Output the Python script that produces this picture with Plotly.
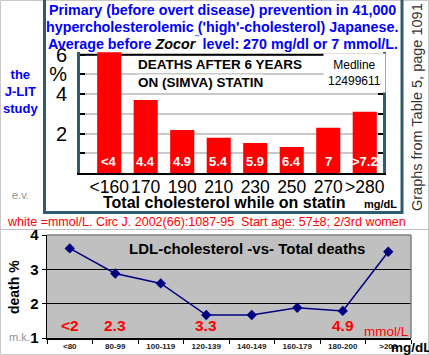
import plotly.graph_objects as go

W, H = 429, 355
def px(x): return x / W
def py(y): return 1 - y / H

# ---------------- data ----------------
tc_categories = ["<160", "170", "190", "210", "230", "250", "270", ">280"]
tc_death_pct = [6.13, 3.70, 2.18, 1.79, 1.52, 1.32, 2.30, 3.11]
tc_mmol_labels = ["<4", "4.4", "4.9", "5.4", "5.9", "6.4", "7", ">7.2"]
top_ytick_vals = [1, 2, 3, 4, 5, 6]
top_ytick_text = ["", "2", "", "4", "%", "6"]

ldl_categories = ["<80", "80-99", "100-119", "120-139", "140-149", "160-179", "180-200", ">200"]
ldl_death_pct = [3.61, 2.88, 2.59, 1.67, 1.67, 1.88, 1.79, 3.51]
ldl_mmol_labels = ["<2", "2.3", "", "3.3", "", "", "4.9", ""]
bottom_ytick_vals = [1, 2, 3, 4]

FONT = "Liberation Sans, Arial, sans-serif"
SLATE = "#2f5b6f"
BAR_W = 0.66

fig = go.Figure()

fig.add_trace(go.Bar(
    x=list(range(len(tc_categories))), y=tc_death_pct,
    marker=dict(color="#ff0000", line=dict(width=0)),
    width=BAR_W, xaxis="x", yaxis="y", hoverinfo="skip", showlegend=False))

fig.add_trace(go.Scatter(
    x=ldl_categories, y=ldl_death_pct, mode="lines+markers",
    line=dict(color="#000080", width=1.5),
    marker=dict(symbol="diamond", size=8, color="#000080"),
    xaxis="x2", yaxis="y2", hoverinfo="skip", showlegend=False))

ann = []
def A(x, y, text, size, color="black", bold=False, italic=False, xanchor="center",
      yanchor="middle", textangle=0, align="center", bgcolor=None, xref="paper", yref="paper", **kw):
    d = dict(x=x, y=y, xref=xref, yref=yref, text=text, showarrow=False,
             xanchor=xanchor, yanchor=yanchor, textangle=textangle, align=align,
             font=dict(family=FONT, size=size, color=color,
                       weight="bold" if bold else "normal",
                       style="italic" if italic else "normal"))
    if bgcolor:
        d["bgcolor"] = bgcolor
    d.update(kw)
    ann.append(d)

# title lines
A(px(222), py(10), "Primary (before overt disease) prevention in 41,000", 14.3, "#0000ff", bold=True)
A(px(222), py(27), "hypercholesterolemic ('high'-cholesterol) Japanese.", 14.3, "#0000ff", bold=True)
A(px(223), py(43), "Average before <span style='color:black'><i>Zocor</i></span><sup>¨</sup> level: 270 mg/dl or 7 mmol/L.",
  14.3, "#0000ff", bold=True)

# left notes
A(px(20), py(91), "the<br>J-LIT<br>study", 13, "#0000ff", bold=True)
A(px(20), py(195), "e.v.", 11, "#909090")
A(px(417), py(107), "Graphs from Table 5, page 1091", 14.5, "#333333", textangle=-90)

# chart texts (top)
A(px(137), py(65), "DEATHS AFTER 6 YEARS", 13.5, bold=True, xanchor="left", bgcolor="white", borderpad=0)
A(px(137), py(82), "ON (SIMVA) STATIN", 13.5, bold=True, xanchor="left", bgcolor="white", borderpad=0)
A(px(354), py(73), "Medline<br>12499611", 12, xanchor="center", bgcolor="white", borderpad=4)
A(px(224), py(202), "Total cholesterol while on statin", 16, bold=True)
A(px(380), py(204), "mg/dL", 11, bold=True)
for i, lab in enumerate(tc_mmol_labels):
    A(i, 0, lab, 13, "white", bold=True, xref="x", yref="y", yanchor="bottom", yshift=2)

A(px(206), py(222), "white =mmol/L. Circ J. 2002(66):1087-95  Start age: 57±8; 2/3rd women", 12.5, "#ff0000")

# bottom chart texts
A(px(247), py(249), "LDL-cholesterol -vs- Total deaths", 15, bold=True)
A(px(14), py(287), "death %", 14, bold=True, textangle=-90)
A(px(19), py(337), "m.k.", 11, "#909090")
A(px(411), py(347), "mg/dL", 13.5, bold=True)
for i, lab in enumerate(ldl_mmol_labels):
    if lab:
        A(i, 1, lab, 15.5, "#ff0000", bold=True, xref="x2", yref="y2", yanchor="bottom", yshift=2)
A(px(362), py(331), "mmol/L", 13.5, "#ff0000", xanchor="left")

shapes = [
    # page border & separator
    dict(type="rect", xref="paper", yref="paper", x0=px(0.5), x1=px(428.5), y0=py(354.5), y1=py(0.5),
         line=dict(color="#c8c8c8", width=1)),
    dict(type="line", xref="paper", yref="paper", x0=0, x1=1, y0=py(229.5), y1=py(229.5),
         line=dict(color="#c0c0c0", width=1)),
    # frame of upper chart
    dict(type="rect", xref="paper", yref="paper", x0=px(44.5), x1=px(402), y0=py(212.5), y1=py(-3),
         line=dict(color=SLATE, width=3)),
    # black line at 6 in upper chart (interrupted by the first bar)
    dict(type="line", xref="x", yref="y", x0=-0.8, x1=-BAR_W / 2, y0=6, y1=6,
         line=dict(color="black", width=2)),
    dict(type="line", xref="x", yref="y", x0=BAR_W / 2, x1=7.5, y0=6, y1=6,
         line=dict(color="black", width=2)),
    # gray plot area of lower chart
    dict(type="rect", xref="x2 domain", yref="y2 domain", x0=0, x1=1, y0=0, y1=1,
         fillcolor="#c0c0c0", line=dict(width=0), layer="below"),
    dict(type="line", xref="x2 domain", yref="y2 domain", x0=0, x1=1, y0=1, y1=1,
         line=dict(color="#808080", width=1.5)),
    dict(type="line", xref="x2 domain", yref="y2 domain", x0=1, x1=1, y0=0, y1=1,
         line=dict(color="#808080", width=1.5)),
]

fig.update_layout(
    width=W, height=H, margin=dict(l=0, r=0, t=0, b=0, autoexpand=False),
    paper_bgcolor="white", plot_bgcolor="white",
    showlegend=False,
    annotations=ann, shapes=shapes,
    xaxis=dict(domain=[px(80), px(383)], anchor="y",
               range=[-0.8, 7.5], showline=True, linecolor="black", linewidth=2,
               tickmode="array", tickvals=list(range(len(tc_categories))), ticktext=tc_categories,
               ticks="", showgrid=False, zeroline=False, tickangle=0,
               ticklabelstandoff=-3,
               tickfont=dict(family=FONT, size=17.5, color="black")),
    yaxis=dict(domain=[py(173), py(51.8)], anchor="x", range=[0, 6.15],
               tickvals=top_ytick_vals, ticktext=top_ytick_text,
               showline=True, linecolor=SLATE, linewidth=3, mirror="ticks",
               ticks="inside", ticklen=5, tickwidth=2, tickcolor="black",
               showgrid=True, gridcolor="#c8c8c8", gridwidth=2, zeroline=False,
               ticklabelstandoff=6,
               tickfont=dict(family=FONT, size=20, color="black")),
    xaxis2=dict(domain=[px(47), px(411)], anchor="y2", type="category",
                range=[-0.5, 7.5],
                showline=True, linecolor="black", linewidth=1.5,
                ticks="outside", tickson="boundaries", ticklen=4, tickcolor="black",
                showgrid=False, zeroline=False, tickangle=0,
                tickfont=dict(family=FONT, size=8, color="#222222", weight="bold")),
    yaxis2=dict(domain=[py(338), py(235)], anchor="x2", range=[1, 4],
                tickvals=bottom_ytick_vals,
                showline=True, linecolor="black", linewidth=1.5,
                ticks="outside", ticklen=4, tickcolor="black",
                showgrid=True, gridcolor="black", gridwidth=1, zeroline=False,
                tickfont=dict(family=FONT, size=15, color="black", weight="bold")),
)

fig.write_html("out.html", config={"displayModeBar": False, "staticPlot": True},
               post_script="document.body.style.margin='0';document.body.style.overflow='hidden';")
